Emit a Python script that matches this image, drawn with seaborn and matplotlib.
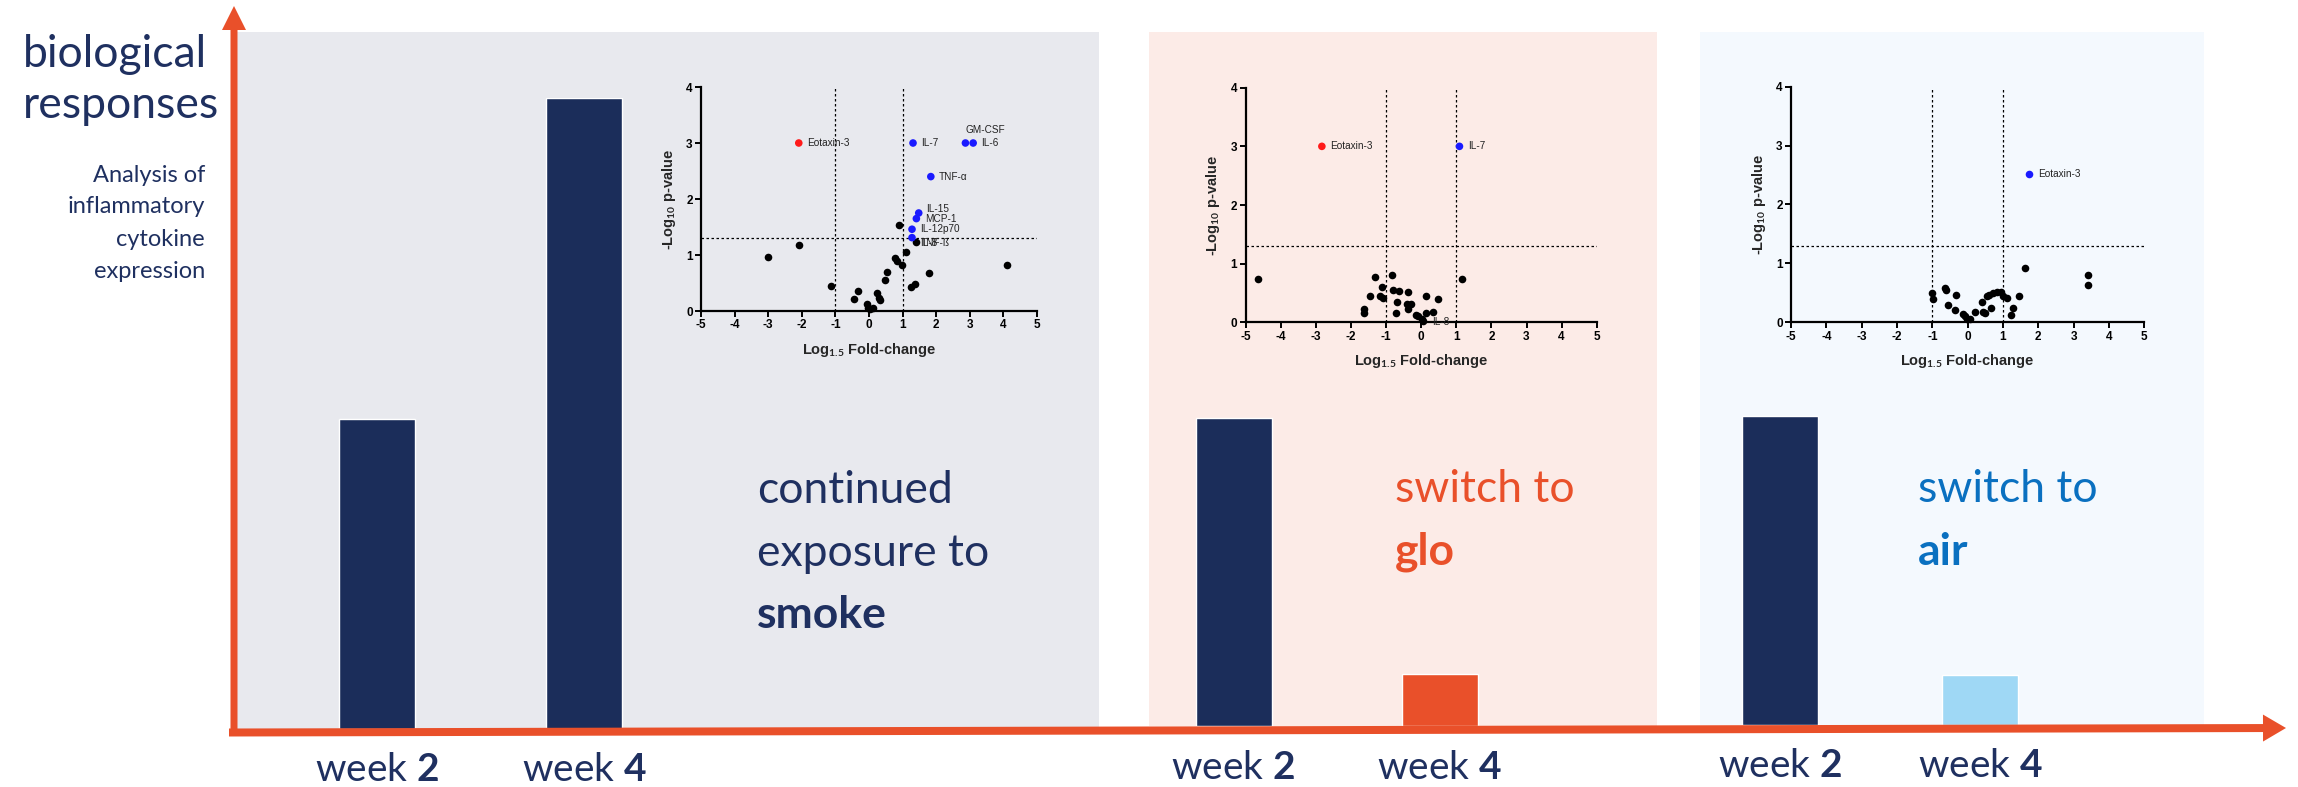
import numpy as np
import pandas as pd
import seaborn as sns
import matplotlib.pyplot as plt
from matplotlib.patches import Rectangle, FancyArrow

# bar heights, relative response (week 4 smoke = 100)
week_labels = ['week $\\mathbf{2}$', 'week $\\mathbf{4}$']
smoke_resp = [49.0, 100.0]
glo_resp = [48.8, 8.2]
air_resp = [48.9, 7.8]

# volcano 1: continued smoke (log1.5 fold-change, -log10 p)
smoke_fc = [0.89, -2.07, -3.02, 1.41, 1.11, 0.77, 0.83, 0.97, 4.10, 0.55, 1.78, 0.48,
            -1.12, 1.36, 1.25, -0.32, -0.45, 0.23, 0.29, 0.34, -0.06, -0.03, 0.11, 0.03]
smoke_p = [1.53, 1.18, 0.96, 1.24, 1.06, 0.95, 0.89, 0.82, 0.83, 0.70, 0.67, 0.56,
           0.45, 0.48, 0.42, 0.36, 0.21, 0.33, 0.24, 0.19, 0.12, 0.06, 0.05, 0.03]
smoke_hit_names = ['Eotaxin-3', 'IL-7', 'GM-CSF', 'IL-6', 'TNF-\u03b1', 'IL-15', 'MCP-1', 'IL-12p70', 'TNF-\u00df']
smoke_hit_fc = [-2.09, 1.31, 2.87, 3.10, 1.84, 1.48, 1.41, 1.28, 1.28]
smoke_hit_p = [3.0, 3.0, 3.0, 3.0, 2.40, 1.75, 1.65, 1.46, 1.31]
smoke_note_names = ['IL-8']
smoke_note_fc = [1.41]
smoke_note_p = [1.24]

# volcano 2: switch to glo
glo_fc = [-4.64, 1.16, -0.84, -1.33, -1.13, -0.80, -0.64, -0.38, -1.47, -1.17, -1.10, 0.14, 0.49,
          -0.70, -0.40, -0.28, -0.37, -1.64, -1.63, -0.73, 0.14, 0.33, -0.15, -0.08, 0.02, 0.06]
glo_p = [0.74, 0.74, 0.81, 0.77, 0.61, 0.55, 0.53, 0.51, 0.45, 0.45, 0.42, 0.45, 0.40,
         0.34, 0.31, 0.31, 0.22, 0.23, 0.16, 0.16, 0.16, 0.18, 0.13, 0.10, 0.06, 0.03]
glo_hit_names = ['Eotaxin-3', 'IL-7']
glo_hit_fc = [-2.83, 1.09]
glo_hit_p = [3.0, 3.0]
glo_note_names = ['IL-8']
glo_note_fc = [0.06]
glo_note_p = [0.03]

# volcano 3: switch to air
air_fc = [1.63, 3.40, 3.40, -1.02, -0.99, -0.65, -0.61, -0.33, -0.55, -0.36, -0.14, -0.07, -0.01, 0.07,
          0.21, 0.44, 0.49, 0.66, 0.42, 0.54, 0.61, 0.73, 0.82, 0.93, 0.99, 1.12, 1.44, 1.27, 1.23]
air_p = [0.93, 0.80, 0.63, 0.50, 0.40, 0.59, 0.55, 0.46, 0.29, 0.21, 0.14, 0.11, 0.06, 0.05,
         0.18, 0.18, 0.16, 0.25, 0.35, 0.44, 0.46, 0.49, 0.51, 0.51, 0.45, 0.42, 0.44, 0.25, 0.12]
air_hit_names = ['Eotaxin-3']
air_hit_fc = [1.75]
air_hit_p = [2.51]

sns.set_style('white')
plt.rcParams['font.family'] = ['Lato', 'DejaVu Sans']
plt.rcParams['mathtext.fontset'] = 'custom'
plt.rcParams['mathtext.rm'] = 'Lato'
plt.rcParams['mathtext.bf'] = 'Lato:bold'
plt.rcParams['axes.unicode_minus'] = False

W, H = 2298, 787
NAVY = '#1b2d5a'
TXT = '#1f3060'
ORANGE = '#e9502a'
LBLUE = '#9fd8f5'
AIRBLUE = '#0a70c0'
RED = '#ff1a1a'
BLUE = '#1a1aff'

fig = plt.figure(figsize=(W / 100, H / 100), dpi=100)

# background layer in pixel coordinates
bg = fig.add_axes([0, 0, 1, 1])
bg.set_xlim(0, W)
bg.set_ylim(H, 0)
bg.axis('off')
for x0, x1, col, base in [(236, 1099, '#e8e9ee', 728.5), (1149, 1657, '#fcebe7', 726), (1700, 2204, '#f4f9fe', 724.5)]:
    bg.add_patch(Rectangle((x0, 32), x1 - x0, base - 32, color=col, lw=0))

bg.text(23, 67, 'biological', fontsize=32, color=TXT, va='baseline')
bg.text(23, 118, 'responses', fontsize=32, color=TXT, va='baseline')
for yb, line in zip([182, 213, 246, 278], ['Analysis of', 'inflammatory', 'cytokine', 'expression']):
    bg.text(205, yb, line, fontsize=17, color=TXT, ha='right', va='baseline')

for yb, line, wt in zip([503, 566, 628], ['continued', 'exposure to', 'smoke'], ['normal', 'normal', 'bold']):
    bg.text(757, yb, line, fontsize=32, color=TXT, fontweight=wt, va='baseline')
for yb, line, wt in zip([502, 565], ['switch to', 'glo'], ['normal', 'bold']):
    bg.text(1395, yb, line, fontsize=32, color=ORANGE, fontweight=wt, va='baseline')
for yb, line, wt in zip([502, 565], ['switch to', 'air'], ['normal', 'bold']):
    bg.text(1918, yb, line, fontsize=32, color=AIRBLUE, fontweight=wt, va='baseline')

# bars
for vals, cols, c0, sp, base in [(smoke_resp, [NAVY, NAVY], 377, 207, 728.5),
                                  (glo_resp, [NAVY, ORANGE], 1233.5, 206, 726),
                                  (air_resp, [NAVY, LBLUE], 1780, 200, 724.5)]:
    ax = fig.add_axes([(c0 - sp / 2) / W, (H - base) / H, 2 * sp / W, 631 / H])
    sns.barplot(x=week_labels, y=vals, hue=week_labels, palette=cols, width=76 / sp,
                saturation=1, legend=False, ax=ax)
    ax.set_facecolor('none')
    sns.despine(ax=ax, left=True, bottom=True)
    ax.set_ylim(0, 100)
    ax.set_xlim(-0.5, 1.5)
    ax.set_yticks([])
    ax.set_xlabel('')
    ax.set_ylabel('')
    ax.tick_params(axis='x', length=0, pad=17, labelsize=28, labelcolor=TXT)


def volcano(rect, fc, p, names, hfc, hp, nnames, nfc, np_, offsets):
    ax = fig.add_axes(rect)
    ax.set_facecolor('none')
    dash = dict(color='black', lw=0.9, ls=(0, (2, 2)), zorder=1)
    ax.axvline(-1, **dash)
    ax.axvline(1, **dash)
    ax.axhline(1.3, **dash)
    sns.scatterplot(x=fc, y=p, color='black', s=30, linewidth=0, ax=ax, zorder=3, clip_on=False)
    cols = [RED if v < 0 else BLUE for v in hfc]
    sns.scatterplot(x=hfc, y=hp, hue=names, palette=cols, s=30, linewidth=0, ax=ax,
                    legend=False, zorder=4, clip_on=False)
    for name, x, y in zip(names + nnames, hfc + nfc, hp + np_):
        dx, dy = offsets.get(name, (6, 0))
        ax.annotate(name, (x, y), xytext=(dx, dy), textcoords='offset points', fontsize=7.2,
                    va='center', ha='left', color='#222222', family='Liberation Sans', zorder=5)
    ax.set_xlim(-5, 5)
    ax.set_ylim(0, 4)
    ax.set_xticks(range(-5, 6))
    ax.set_yticks(range(0, 5))
    sns.despine(ax=ax)
    for s in ['left', 'bottom']:
        ax.spines[s].set_linewidth(1.6)
        ax.spines[s].set_color('black')
    ax.tick_params(direction='out', length=4, width=1.4, labelsize=8.5, pad=2,
                   bottom=True, left=True, color='black', labelcolor='black')
    for lab in ax.get_xticklabels() + ax.get_yticklabels():
        lab.set_fontweight('bold')
        lab.set_family('Liberation Sans')
    ax.set_xlabel('Log$_{\\mathbf{1.5}}$ Fold-change', fontsize=10.5, fontweight='bold',
                  family='Liberation Sans', labelpad=7)
    ax.set_ylabel('-Log$_{\\mathbf{10}}$ p-value', fontsize=10.5, fontweight='bold',
                  family='Liberation Sans', labelpad=6)
    return ax


volcano([701 / W, (H - 311) / H, 336 / W, 224 / H], smoke_fc, smoke_p,
        smoke_hit_names, smoke_hit_fc, smoke_hit_p, smoke_note_names, smoke_note_fc, smoke_note_p,
        {'GM-CSF': (0, 9.5), 'IL-15': (5, 3), 'TNF-\u00df': (6, -3.6), 'IL-8': (3, -1)})
volcano([1245.7 / W, (H - 322.3) / H, 351 / W, 234.6 / H], glo_fc, glo_p,
        glo_hit_names, glo_hit_fc, glo_hit_p, glo_note_names, glo_note_fc, glo_note_p,
        {'IL-8': (6, -1)})
volcano([1791 / W, (H - 322.3) / H, 353.3 / W, 235.6 / H], air_fc, air_p,
        air_hit_names, air_hit_fc, air_hit_p, [], [], [], {})

# axis arrows on top
top = fig.add_axes([0, 0, 1, 1], zorder=10)
top.set_xlim(0, W)
top.set_ylim(H, 0)
top.axis('off')
top.add_patch(FancyArrow(234, 736, 0, -730, width=7, head_width=24, head_length=24,
                         length_includes_head=True, color=ORANGE, lw=0))
top.add_patch(FancyArrow(229, 732.5, 2057, -4.5, width=8, head_width=27, head_length=23,
                         length_includes_head=True, color=ORANGE, lw=0))

fig.savefig('out.png', dpi=100)
